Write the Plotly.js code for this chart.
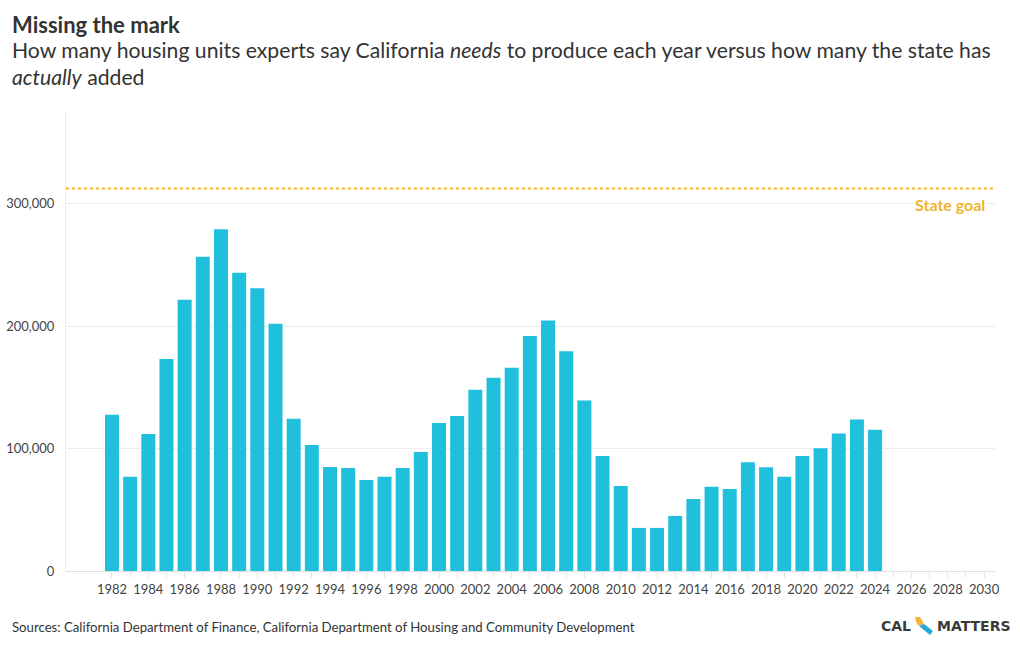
<!DOCTYPE html>
<html>
<head>
<meta charset="utf-8">
<script src="https://cdn.plot.ly/plotly-3.0.1.min.js"></script>
<style>html,body{margin:0;padding:0;background:#fff;}#chart{width:1020px;height:650px;}</style>
</head>
<body>
<div id="chart"></div>
<script>
const years = [1982,1983,1984,1985,1986,1987,1988,1989,1990,1991,1992,1993,1994,1995,1996,1997,1998,1999,2000,2001,2002,2003,2004,2005,2006,2007,2008,2009,2010,2011,2012,2013,2014,2015,2016,2017,2018,2019,2020,2021,2022,2023,2024];
const unitsAdded = [127600,76900,112000,173300,221600,256700,279300,243700,231000,202000,124300,103000,85000,84200,74400,76900,84200,97300,121000,126700,148000,157800,166000,192000,204700,179600,139200,94000,69500,35200,35200,45000,58900,68900,67000,88900,84800,77100,94000,100300,112300,123700,115300];
const stateGoal = 312500;
const tickYears = [1982,1983,1984,1985,1986,1987,1988,1989,1990,1991,1992,1993,1994,1995,1996,1997,1998,1999,2000,2001,2002,2003,2004,2005,2006,2007,2008,2009,2010,2011,2012,2013,2014,2015,2016,2017,2018,2019,2020,2021,2022,2023,2024,2025,2026,2027,2028,2029,2030];
const tickLabels = tickYears.map(y => (y % 2 === 0 ? String(y) : ''));
const yTicks = [0,100000,200000,300000];
const yTickLabels = ['0','100,000','200,000','300,000'];

const L = 66, R = 995, T = 112, B = 571;
const W = R - L, H = B - T;
const px = p => (p - L) / W;
const py = p => (B - p) / H;

const FONT = 'Lato, "Open Sans", sans-serif';

const trace = {
  type: 'bar', x: years, y: unitsAdded,
  marker: {color: '#20bfdb'}, hoverinfo: 'x+y'
};

const layout = {
  width: 1020, height: 650,
  margin: {l: L, r: 1020 - R, t: T, b: 650 - B, pad: 0},
  paper_bgcolor: '#fff', plot_bgcolor: '#fff',
  bargap: 0.23,
  showlegend: false,
  font: {family: FONT, color: '#444', size: 13},
  xaxis: {
    range: [1979.47, 2030.6], tickmode: 'array', tickvals: tickYears, ticktext: tickLabels,
    showgrid: false, zeroline: false, showline: false,
    ticks: 'outside', ticklen: 6, tickcolor: '#e6e6e6', tickwidth: 1,
    tickfont: {family: FONT, size: 13, color: '#444'}, fixedrange: true
  },
  yaxis: {
    range: [0, 375000], tickmode: 'array', tickvals: yTicks, ticktext: yTickLabels,
    showgrid: true, gridcolor: '#ececec', gridwidth: 1,
    zeroline: true, zerolinecolor: '#e0e0e0', zerolinewidth: 1,
    showline: true, linecolor: '#ececec', linewidth: 1,
    ticks: '', ticklabelstandoff: 8,
    tickfont: {family: FONT, size: 13, color: '#444'}, fixedrange: true
  },
  shapes: [
    {type: 'line', xref: 'paper', x0: 0, x1: 0.998, yref: 'y', y0: stateGoal, y1: stateGoal,
     line: {color: '#f2b530', width: 2.2, dash: 'dot'}},
    // CalMatters logo mark (California silhouette)
    {type: 'path', xref: 'paper', yref: 'paper',
     path: `M ${px(915)},${py(617)} L ${px(920)},${py(617)} L ${px(924)},${py(624)} L ${px(919)},${py(626)} L ${px(916)},${py(622)} Z`,
     fillcolor: '#f5b731', line: {width: 0}},
    {type: 'path', xref: 'paper', yref: 'paper',
     path: `M ${px(919)},${py(626)} L ${px(924)},${py(624)} L ${px(933)},${py(631)} L ${px(930)},${py(635)} Z`,
     fillcolor: '#26a9d6', line: {width: 0}}
  ],
  annotations: [
    {xref: 'paper', yref: 'paper', x: px(10), y: py(24), xanchor: 'left', yanchor: 'middle',
     text: '<b>Missing the mark</b>', showarrow: false,
     font: {family: FONT, size: 22, color: '#333'}},
    {xref: 'paper', yref: 'paper', x: px(10), y: py(50), xanchor: 'left', yanchor: 'middle',
     text: 'How many housing units experts say California <i>needs</i> to produce each year versus how many the state has', showarrow: false,
     font: {family: FONT, size: 21.2, color: '#333'}},
    {xref: 'paper', yref: 'paper', x: px(10), y: py(77), xanchor: 'left', yanchor: 'middle',
     text: '<i>actually</i> added', showarrow: false,
     font: {family: FONT, size: 21.2, color: '#333'}},
    {xref: 'paper', yref: 'y', x: px(987), y: stateGoal, xanchor: 'right', yanchor: 'top', yshift: -4,
     text: '<b>State goal</b>', showarrow: false, bgcolor: '#fff', borderpad: 1,
     font: {family: FONT, size: 16, color: '#f0b330'}},
    {xref: 'paper', yref: 'paper', x: px(10), y: py(627), xanchor: 'left', yanchor: 'middle',
     text: 'Sources: California Department of Finance, California Department of Housing and Community Development', showarrow: false,
     font: {family: FONT, size: 13.2, color: '#333'}},
    {xref: 'paper', yref: 'paper', x: px(913), y: py(626), xanchor: 'right', yanchor: 'middle',
     text: '<b>CAL</b>', showarrow: false,
     font: {family: '"DejaVu Sans", sans-serif', size: 14, color: '#3a3a3a'}},
    {xref: 'paper', yref: 'paper', x: px(935), y: py(626), xanchor: 'left', yanchor: 'middle',
     text: '<b>MATTERS</b>', showarrow: false,
     font: {family: '"DejaVu Sans", sans-serif', size: 14, color: '#3a3a3a'}}
  ]
};

Plotly.newPlot('chart', [trace], layout, {displayModeBar: false, staticPlot: true});
</script>
</body>
</html>
